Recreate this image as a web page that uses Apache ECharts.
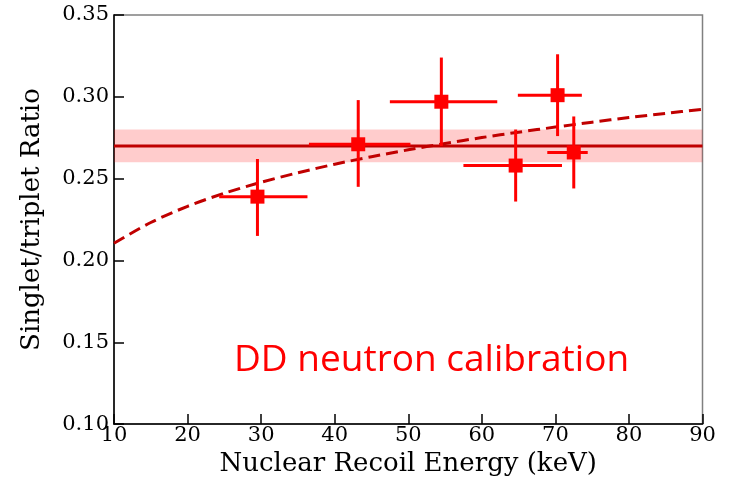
<!DOCTYPE html>
<html><head><meta charset="utf-8">
<script src="https://cdn.jsdelivr.net/npm/echarts@6/dist/echarts.min.js"></script>
<style>html,body{margin:0;padding:0;background:#fff}#c{width:730px;height:482px}</style>
</head><body><div id="c"></div>
<script>
// Data points
const energy = [29.5, 43.2, 54.5, 64.6, 70.3, 72.5];
const ratio = [0.239, 0.271, 0.297, 0.258, 0.301, 0.266];
const energyLow = [24.3, 36.5, 47.5, 57.5, 64.9, 68.9];
const energyHigh = [36.3, 50.3, 62.1, 70.9, 73.6, 74.4];
const ratioLow = [0.215, 0.245, 0.270, 0.236, 0.276, 0.244];
const ratioHigh = [0.262, 0.298, 0.324, 0.280, 0.326, 0.288];
// Fit curve
const fitX = [10, 15, 20, 25, 30, 35, 40, 45, 50, 55, 60, 65, 70, 75, 80, 85, 90];
const fitY = [0.2105, 0.2232, 0.2331, 0.2411, 0.2478, 0.2536, 0.2588, 0.2634, 0.2676, 0.2715, 0.2751, 0.2784, 0.2815, 0.2845, 0.2873, 0.2899, 0.2924];
// Mean line and band
const meanValue = 0.270;
const bandLow = 0.260;
const bandHigh = 0.280;
const xTicks = [10, 20, 30, 40, 50, 60, 70, 80, 90];
const yTicks = [0.10, 0.15, 0.20, 0.25, 0.30, 0.35];

const chart = echarts.init(document.getElementById('c'));
const pts = energy.map((e, i) => [e, ratio[i], energyLow[i], energyHigh[i], ratioLow[i], ratioHigh[i]]);
const serif = 'DejaVu Serif';
chart.setOption({
  animation: false,
  grid: {left: 114, right: 27.5, top: 15, bottom: 52.5, show: true, borderColor: '#808080', borderWidth: 1.5},
  xAxis: {
    type: 'value', min: 10, max: 90, interval: 10,
    name: 'Nuclear Recoil Energy (keV)', nameLocation: 'middle', nameGap: 26,
    nameTextStyle: {fontFamily: serif, fontSize: 26, color: '#000'},
    axisLine: {lineStyle: {color: '#000', width: 1.5}},
    axisTick: {inside: true, length: 10, lineStyle: {color: '#000', width: 1.5}},
    axisLabel: {fontFamily: serif, fontSize: 21, color: '#000', margin: 1},
    splitLine: {show: false}
  },
  yAxis: {
    type: 'value', min: 0.10, max: 0.35, interval: 0.05,
    name: 'Singlet/triplet Ratio', nameLocation: 'middle', nameGap: 69,
    nameTextStyle: {fontFamily: serif, fontSize: 26, color: '#000'},
    axisLine: {lineStyle: {color: '#000', width: 1.5}},
    axisTick: {inside: true, length: 10, lineStyle: {color: '#000', width: 1.5}},
    axisLabel: {fontFamily: serif, fontSize: 21, color: '#000', margin: 5, formatter: v => v.toFixed(2)},
    splitLine: {show: false}
  },
  graphic: [{
    type: 'text', left: 234, top: 342,
    style: {text: 'DD neutron calibration', fill: '#ff0000', font: '37px "Open Sans"'}
  }],
  series: [
    {
      type: 'line', data: [[10, meanValue], [90, meanValue]], symbol: 'none',
      lineStyle: {color: '#c00000', width: 3}, z: 3,
      markArea: {silent: true, itemStyle: {color: 'rgba(255,0,0,0.2)'}, data: [[{yAxis: bandLow}, {yAxis: bandHigh}]]}
    },
    {
      type: 'line', data: fitX.map((x, i) => [x, fitY[i]]), symbol: 'none', smooth: 0.3,
      lineStyle: {color: '#c00000', width: 3, type: [12, 6]}, z: 4
    },
    {
      type: 'custom', data: pts, z: 5,
      renderItem: (params, api) => {
        const c = api.coord([api.value(0), api.value(1)]);
        const l = api.coord([api.value(2), api.value(1)]);
        const r = api.coord([api.value(3), api.value(1)]);
        const b = api.coord([api.value(0), api.value(4)]);
        const t = api.coord([api.value(0), api.value(5)]);
        const st = {stroke: '#ff0000', lineWidth: 3};
        return {type: 'group', children: [
          {type: 'line', shape: {x1: l[0], y1: l[1], x2: r[0], y2: r[1]}, style: st},
          {type: 'line', shape: {x1: b[0], y1: b[1], x2: t[0], y2: t[1]}, style: st},
          {type: 'rect', shape: {x: c[0] - 7, y: c[1] - 7, width: 14, height: 14}, style: {fill: '#ff0000'}}
        ]};
      }
    }
  ]
});
</script></body></html>
